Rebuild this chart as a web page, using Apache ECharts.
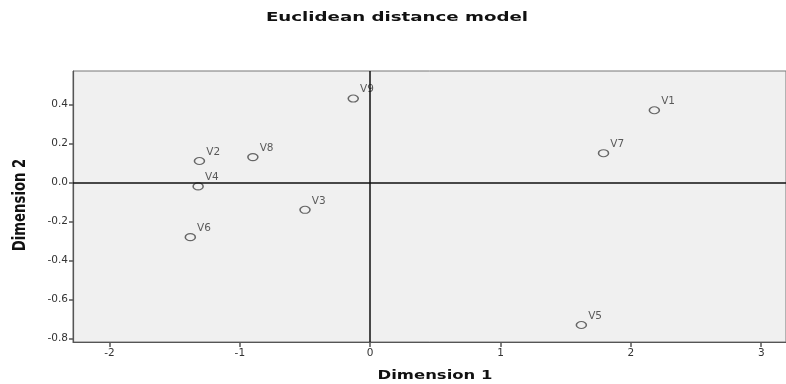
<!DOCTYPE html>
<html>
<head>
<meta charset="utf-8">
<style>
  html, body { margin: 0; padding: 0; background: #fff; }
  #chart { width: 786px; height: 384px; }
</style>
<script src="https://cdn.jsdelivr.net/npm/echarts@6/dist/echarts.min.js"></script>
</head>
<body>
<div id="chart"></div>
<script>
// stimulus coordinates
const names = ['V1', 'V2', 'V3', 'V4', 'V5', 'V6', 'V7', 'V8', 'V9'];
const dim1 = [2.18, -1.31, -0.5, -1.32, 1.62, -1.38, 1.79, -0.9, -0.13];
const dim2 = [0.37, 0.11, -0.14, -0.02, -0.73, -0.28, 0.15, 0.13, 0.43];

const xTicks = [-2, -1, 0, 1, 2, 3];
const yTicks = [-0.8, -0.6, -0.4, -0.2, 0.0, 0.2, 0.4];

const labelFont = 'DejaVu Sans, Arial, sans-serif';
const axisColor = '#555';

const chart = echarts.init(document.getElementById('chart'));

const points = names.map((n, i) => ({ name: n, value: [dim1[i], dim2[i]] }));

const option = {
  animation: false,
  backgroundColor: '#fff',
  // the SPSS picture is stretched sideways, so the texts get a scaleX
  graphic: [
    {
      type: 'text',
      x: 397,
      y: 18,
      scaleX: 1.4,
      style: {
        text: 'Euclidean distance model',
        fontFamily: labelFont,
        fontSize: 13,
        fontWeight: 'bold',
        fill: '#111',
        align: 'center',
        verticalAlign: 'middle',
      },
    },
    {
      type: 'text',
      x: 435,
      y: 376,
      scaleX: 1.37,
      style: {
        text: 'Dimension 1',
        fontFamily: labelFont,
        fontSize: 12,
        fontWeight: 'bold',
        fill: '#111',
        align: 'center',
        verticalAlign: 'middle',
      },
    },
    {
      type: 'text',
      x: 21,
      y: 205,
      rotation: Math.PI / 2,
      scaleX: 0.78,
      style: {
        text: 'Dimension 2',
        fontFamily: labelFont,
        fontSize: 17,
        fontWeight: 'bold',
        fill: '#111',
        align: 'center',
        verticalAlign: 'middle',
      },
    },
  ],
  grid: {
    left: 73,
    right: 0,
    top: 71,
    bottom: 42,
    show: true,
    backgroundColor: '#f0f0f0',
    borderColor: '#777',
    borderWidth: 1,
  },
  xAxis: {
    type: 'value',
    min: -2.28,
    max: 3.19,
    splitLine: { show: false },
    axisLine: { show: true, lineStyle: { color: axisColor, width: 1.2 }, onZero: false },
    axisTick: {
      show: true,
      inside: false,
      length: 5,
      lineStyle: { color: axisColor, width: 1.5 },
      customValues: xTicks,
    },
    axisLabel: {
      color: '#333',
      fontFamily: labelFont,
      fontSize: 10.5,
      margin: 6,
      customValues: xTicks,
      formatter: (v) => String(v),
    },
  },
  yAxis: {
    type: 'value',
    min: -0.817,
    max: 0.571,
    splitLine: { show: false },
    axisLine: { show: true, lineStyle: { color: axisColor, width: 1.2 }, onZero: false },
    axisTick: {
      show: true,
      inside: false,
      length: 4,
      lineStyle: { color: axisColor, width: 1.5 },
      customValues: yTicks,
    },
    axisLabel: {
      color: '#333',
      fontFamily: labelFont,
      fontSize: 10.5,
      margin: 5,
      customValues: yTicks,
      formatter: (v) => v.toFixed(1),
    },
  },
  series: [
    {
      type: 'scatter',
      data: points,
      symbol: 'circle',
      symbolSize: [10, 7],
      itemStyle: { color: 'rgba(0,0,0,0)', borderColor: '#444', borderWidth: 1.3 },
      label: {
        show: true,
        formatter: (p) => p.name,
        position: 'right',
        distance: 1,
        offset: [0, -9],
        color: '#333',
        fontFamily: labelFont,
        fontSize: 10.5,
      },
      markLine: {
        silent: true,
        symbol: 'none',
        label: { show: false },
        lineStyle: { color: '#111', width: 1.5, type: 'solid' },
        data: [{ xAxis: 0 }, { yAxis: 0 }],
      },
    },
  ],
};

chart.setOption(option);
</script>
</body>
</html>
